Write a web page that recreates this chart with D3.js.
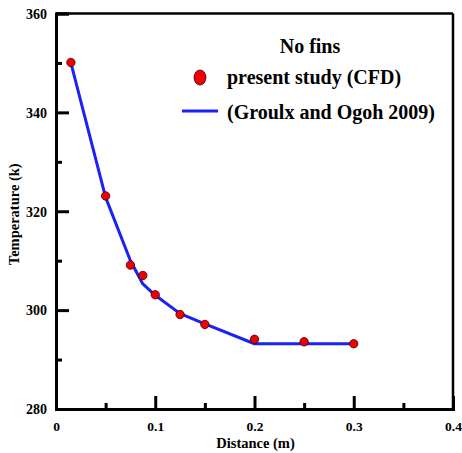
<!DOCTYPE html>
<html>
<head>
<meta charset="utf-8">
<script src="https://cdn.jsdelivr.net/npm/d3@7"></script>
<style>
  html, body { margin: 0; padding: 0; background: #fff; }
  svg { display: block; }
  text { font-family: "Liberation Serif", "Times New Roman", serif; font-weight: bold; fill: #000; }
</style>
</head>
<body>
<script>
// ---- data ----
const cfdX = [0.015, 0.05, 0.075, 0.0875, 0.1, 0.125, 0.15, 0.2, 0.25, 0.3];
const cfdY = [350.1, 323.1, 309.1, 307.0, 303.1, 299.1, 297.1, 294.1, 293.6, 293.2];
const refX = [0.015, 0.05, 0.075, 0.0875, 0.1, 0.125, 0.15, 0.2, 0.25, 0.3];
const refY = [350.0, 322.8, 310.0, 305.3, 303.0, 299.3, 297.2, 293.2, 293.2, 293.2];
const xMajor = [0, 0.1, 0.2, 0.3, 0.4];
const xMinor = [0.05, 0.15, 0.25, 0.35];
const yMajor = [280, 300, 320, 340, 360];
const yMinor = [290, 310, 330, 350];
const legendTitle = "No fins";
const seriesNames = ["present study (CFD)", "(Groulx and Ogoh 2009)"];
const xTitle = "Distance (m)";
const yTitle = "Temperature (k)";

const W = 462, H = 453;
const L = 56, R = 453, T = 13.5, B = 409;
const FONT = '"Liberation Serif", "Times New Roman", serif';

const svg = d3.select("body").append("svg").attr("width", W).attr("height", H);
const x = d3.scaleLinear().domain([0, 0.4]).range([L, R]);
const y = d3.scaleLinear().domain([280, 360]).range([B, T]);

// frame top/right
svg.append("line").attr("x1", L).attr("x2", R).attr("y1", T).attr("y2", T)
  .attr("stroke", "#000").attr("stroke-width", 2.5);
svg.append("line").attr("x1", R).attr("x2", R).attr("y1", T).attr("y2", B)
  .attr("stroke", "#000").attr("stroke-width", 2.5);

// left axis
const yAxis = svg.append("g").attr("transform", `translate(${L},0)`)
  .call(d3.axisRight(y).tickValues(yMajor).tickSize(13).tickFormat(d3.format("d")));
yAxis.attr("font-family", FONT).attr("font-size", 14);
yAxis.select(".domain").attr("stroke-width", 3);
yAxis.selectAll(".tick line").attr("stroke-width", 3);
yAxis.selectAll(".tick text").attr("x", -9).attr("text-anchor", "end").attr("dy", "0.34em");
const yAxisMinor = svg.append("g").attr("transform", `translate(${L},0)`)
  .call(d3.axisRight(y).tickValues(yMinor).tickSize(6).tickFormat(""));
yAxisMinor.select(".domain").remove();
yAxisMinor.selectAll(".tick line").attr("stroke-width", 3);

// bottom axis
const xAxis = svg.append("g").attr("transform", `translate(0,${B})`)
  .call(d3.axisTop(x).tickValues(xMajor).tickSize(13).tickFormat(d => d === 0 ? "0" : d3.format(".1f")(d)));
xAxis.attr("font-family", FONT).attr("font-size", 13.5);
xAxis.select(".domain").attr("stroke-width", 3);
xAxis.selectAll(".tick line").attr("stroke-width", 3);
xAxis.selectAll(".tick text").attr("y", 22).attr("dy", 0);
const xAxisMinor = svg.append("g").attr("transform", `translate(0,${B})`)
  .call(d3.axisTop(x).tickValues(xMinor).tickSize(6).tickFormat(""));
xAxisMinor.select(".domain").remove();
xAxisMinor.selectAll(".tick line").attr("stroke-width", 3);

// axis titles
svg.append("text").attr("x", (L + R) / 2 + 1).attr("y", 448).attr("text-anchor", "middle")
  .style("font-size", "14.5px").text(xTitle);
svg.append("text").attr("transform", `translate(19,${(T + B) / 2 + 3}) rotate(-90)`)
  .attr("text-anchor", "middle").style("font-size", "14.5px").text(yTitle);

// reference line
const line = d3.line().x(d => x(d[0])).y(d => y(d[1]));
svg.append("path").datum(refX.map((v, i) => [v, refY[i]]))
  .attr("d", line).attr("fill", "none").attr("stroke", "#1a22f5").attr("stroke-width", 3)
  .attr("stroke-linejoin", "round");

// CFD points
svg.selectAll("circle.cfd").data(cfdX.map((v, i) => [v, cfdY[i]])).enter()
  .append("circle").attr("class", "cfd")
  .attr("cx", d => x(d[0])).attr("cy", d => y(d[1])).attr("r", 4.2)
  .attr("fill", "#f00000").attr("stroke", "#400000").attr("stroke-width", 0.8);

// legend
svg.append("text").attr("x", 310).attr("y", 53).attr("text-anchor", "middle")
  .style("font-size", "20px").text(legendTitle);
svg.append("ellipse").attr("cx", 200).attr("cy", 77.5).attr("rx", 6).attr("ry", 7.5)
  .attr("fill", "#f00000").attr("stroke", "#400000").attr("stroke-width", 0.8);
svg.append("text").attr("x", 227).attr("y", 84).style("font-size", "20px").text(seriesNames[0]);
svg.append("line").attr("x1", 182).attr("x2", 218).attr("y1", 111).attr("y2", 111)
  .attr("stroke", "#1a22f5").attr("stroke-width", 3);
svg.append("text").attr("x", 227).attr("y", 119).style("font-size", "20px").text(seriesNames[1]);
</script>
</body>
</html>
